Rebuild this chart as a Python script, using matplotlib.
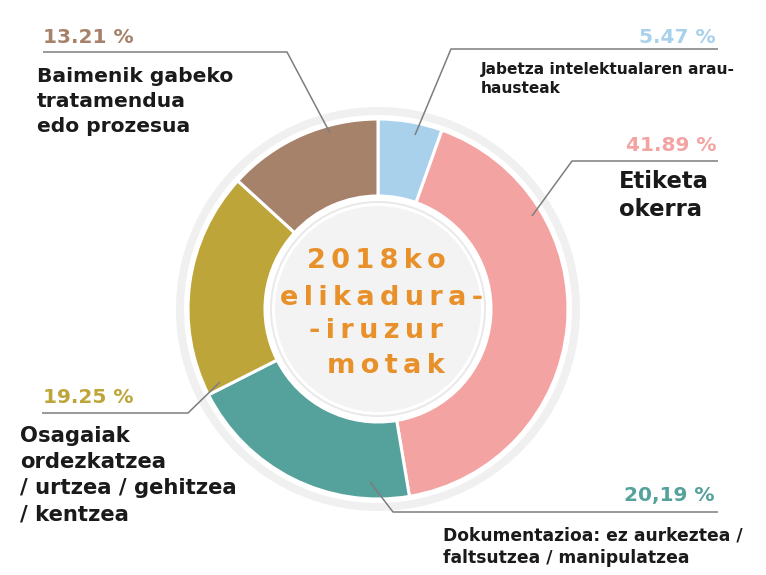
import matplotlib
matplotlib.use("Agg")
import matplotlib.pyplot as plt
from matplotlib.patches import Circle

# ---- data ----
categories = [
    "Jabetza intelektualaren arau-\nhausteak",
    "Etiketa\nokerra",
    "Dokumentazioa: ez aurkeztea /\nfaltsutzea / manipulatzea",
    "Osagaiak\nordezkatzea\n/ urtzea / gehitzea\n/ kentzea",
    "Baimenik gabeko\ntratamendua\nedo prozesua",
]
values = [5.47, 41.89, 20.19, 19.25, 13.21]
pct_labels = ["5.47 %", "41.89 %", "20,19 %", "19.25 %", "13.21 %"]
colors = ["#a9d1ec", "#f4a3a3", "#55a19c", "#bea53a", "#a6826b"]
center_title = ["2018ko", "elikadura-", "-iruzur", "motak"]

W, H = 766, 575
fig = plt.figure(figsize=(W / 100, H / 100), dpi=100)
ax = fig.add_axes([0, 0, 1, 1])

cx, cy, R, r_in = 378, 309, 190, 113

# faint outer ring
ax.add_patch(Circle((cx, cy), R + 12, facecolor="#f0f0f0", edgecolor="none", zorder=0))
ax.add_patch(Circle((cx, cy), R + 4, facecolor="white", edgecolor="none", zorder=0.5))

ax.pie(values, colors=colors, startangle=-90, counterclock=True,
       radius=R, center=(cx, cy),
       wedgeprops=dict(width=R - r_in, edgecolor="white", linewidth=2.2))

# center disc
ax.add_patch(Circle((cx, cy), r_in - 5, facecolor="#e9e9e9", edgecolor="none", zorder=3))
ax.add_patch(Circle((cx, cy), r_in - 7, facecolor="white", edgecolor="none", zorder=3.5))
ax.add_patch(Circle((cx, cy), r_in - 10, facecolor="#f3f3f3", edgecolor="none", zorder=4))

ax.set_xlim(0, W)
ax.set_ylim(H, 0)
ax.set_aspect("equal")
ax.axis("off")

# leader lines
leaders = [
    [(415, 135), (451, 49), (718, 49)],
    [(532, 216), (572, 161), (718, 161)],
    [(370, 482), (393, 512), (718, 512)],
    [(220, 382), (188, 413), (42, 413)],
    [(330, 133), (287, 52), (43, 52)],
]
for pts in leaders:
    xs, ys = zip(*pts)
    ax.plot(xs, ys, color="#7d7d7d", lw=1.1, zorder=6, solid_capstyle="butt")

# percentage labels: (x, baseline, ha)
pct_pos = [(716, 43, "right"), (716, 151, "right"), (715, 501, "right"),
           (43, 403, "left"), (43, 43, "left")]
for (x, y, ha), t, c in zip(pct_pos, pct_labels, colors):
    ax.text(x, y, t, color=c, fontsize=14.5, fontweight="bold",
            ha=ha, va="baseline", family="DejaVu Sans", zorder=7)

# category labels: x, first baseline, line step, fontsize
lab_fmt = [
    (481, 74, 19, 11.1),
    (619, 188, 28.5, 16.3),
    (443, 541, 22, 12.3),
    (20, 442, 26, 15.2),
    (37, 82, 25, 14.6),
]
for (x, y0, step, fs), lab in zip(lab_fmt, categories):
    for i, line in enumerate(lab.split("\n")):
        ax.text(x, y0 + i * step, line, color="#1a1a1a", fontsize=fs,
                fontweight="bold", ha="left", va="baseline",
                family="DejaVu Sans", zorder=7)

# center title with letter spacing
title_pos = [(376, 268), (382, 305), (376, 338), (386, 373)]
for (x, y), line in zip(title_pos, center_title):
    spaced = "\u2009".join(line)
    ax.text(x, y, spaced, color="#e8912b", fontsize=19.5, fontweight="bold",
            ha="center", va="baseline", family="DejaVu Sans", zorder=7)

fig.savefig("out.png", dpi=100)
